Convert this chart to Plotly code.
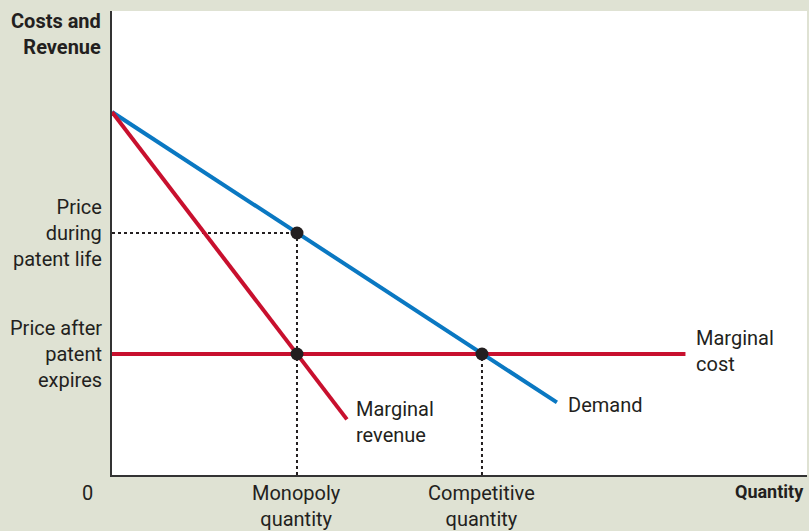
import plotly.graph_objects as go

# Data (economic units)
demand_q = [0, 2.405]
demand_p = [3, 0.6]
mr_q = [0, 1.27]
mr_p = [3, 0.46]
mc_q = [0, 3.1]
mc_p = [1, 1]
eq_q = [1, 1, 2]
eq_p = [2, 1, 1]
monopoly_q = 1
competitive_q = 2
monopoly_p = 2
mc_level = 1

X_MAX = 3.757
Y_MAX = 3.835

BLUE = "#0a78c2"
RED = "#c8102e"
BG = "#dfe2d3"
TXT = "#231f20"
FONT = "Roboto"

fig = go.Figure()
# dotted guides
fig.add_trace(go.Scatter(x=[0, monopoly_q], y=[monopoly_p, monopoly_p], mode="lines",
                         line=dict(color=TXT, width=2, dash="dot"), hoverinfo="skip"))
fig.add_trace(go.Scatter(x=[monopoly_q, monopoly_q], y=[0, monopoly_p], mode="lines",
                         line=dict(color=TXT, width=2, dash="dot"), hoverinfo="skip"))
fig.add_trace(go.Scatter(x=[competitive_q, competitive_q], y=[0, mc_level], mode="lines",
                         line=dict(color=TXT, width=2, dash="dot"), hoverinfo="skip"))
# curves
fig.add_trace(go.Scatter(x=mc_q, y=mc_p, mode="lines", line=dict(color=RED, width=4)))
fig.add_trace(go.Scatter(x=demand_q, y=demand_p, mode="lines", line=dict(color=BLUE, width=4)))
fig.add_trace(go.Scatter(x=mr_q, y=mr_p, mode="lines", line=dict(color=RED, width=4)))
fig.add_trace(go.Scatter(x=eq_q, y=eq_p, mode="markers", marker=dict(color=TXT, size=13)))

ann = []
def A(x, y, text, xanchor="left", yanchor="middle", align="left", bold=False, size=20):
    ann.append(dict(x=x / X_MAX, y=y / Y_MAX, xref="paper", yref="paper",
                    text=("<b>%s</b>" % text) if bold else text,
                    showarrow=False, xanchor=xanchor, yanchor=yanchor, align=align,
                    font=dict(family=FONT, size=size, color=TXT)))

A(-0.045, monopoly_p, "Price<br>during<br>patent life", xanchor="right", align="right")
A(-0.045, mc_level, "Price after<br>patent<br>expires", xanchor="right", align="right")
A(-0.05, 3.865, "Costs and<br>Revenue", xanchor="right", yanchor="top", align="right", bold=True, size=20)
A(-0.135, -0.035, "0", xanchor="center", yanchor="top")
A(monopoly_q, -0.035, "Monopoly<br>quantity", xanchor="center", yanchor="top", align="center")
A(competitive_q, -0.035, "Competitive<br>quantity", xanchor="center", yanchor="top", align="center")
A(3.752, -0.035, "Quantity", xanchor="right", yanchor="top", bold=True, size=18)
A(1.31, 0.44, "Marginal<br>revenue")
A(2.455, 0.58, "Demand")
A(3.147, 1.025, "Marginal<br>cost")

fig.update_layout(
    width=809, height=531,
    margin=dict(l=112, r=2, t=11, b=56),
    paper_bgcolor=BG, plot_bgcolor="white",
    showlegend=False,
    annotations=ann,
    xaxis=dict(range=[0, X_MAX], showgrid=False, zeroline=False, showticklabels=False,
               showline=True, linecolor="#333333", linewidth=1.5, ticks=""),
    yaxis=dict(range=[0, Y_MAX], showgrid=False, zeroline=False, showticklabels=False,
               showline=True, linecolor="#333333", linewidth=1.5, ticks=""),
)
fig.write_html("out.html", config={"displayModeBar": False},
               post_script="document.body.style.margin='0';document.body.style.background='%s';" % BG)
